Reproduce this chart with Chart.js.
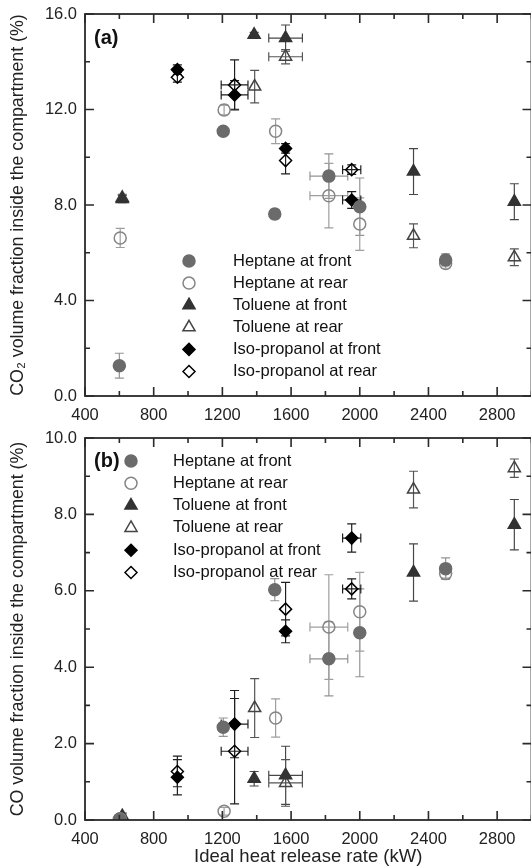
<!DOCTYPE html>
<html><head><meta charset="utf-8">
<script src="https://cdn.jsdelivr.net/npm/chart.js@4.4.0/dist/chart.umd.min.js"></script>
<style>
html,body{margin:0;padding:0;background:#fff;overflow:hidden;width:531px;height:868px;}
#ca{position:absolute;left:0;top:0;}
#cb{position:absolute;left:0;top:420px;}
</style></head><body>
<canvas id="ca" width="540" height="430"></canvas>
<canvas id="cb" width="540" height="448"></canvas>
<script>
// ---------- DATA ----------
const seriesNames = ['Heptane at front','Heptane at rear','Toluene at front','Toluene at rear','Iso-propanol at front','Iso-propanol at rear'];

// x: ideal heat release rate (kW)
const heptaneFrontX = [600, 1205, 1505, 1820, 2000, 2500];
const heptaneRearX  = [605, 1210, 1510, 1820, 2000, 2500];
const tolueneFrontX = [617, 1385, 1568, 2313, 2900];
const tolueneRearX  = [617, 1388, 1568, 2313, 2900];
const isoFrontX     = [938, 1271, 1568, 1953];
const isoRearX      = [938, 1271, 1568, 1953];
// x error (kW)
const heptaneXErr = [0, 0, 0, 110, 0, 0];
const tolueneXErr = [0, 0, 98, 0, 0];
const isoXErr     = [0, 78, 0, 53];

// (a) CO2 volume fraction (%)
const co2HeptaneFront = [1.27, 11.09, 7.62, 9.21, 7.93, 5.70];
const co2HeptaneFrontErr = [0.52, 0.15, 0.20, 0.93, 1.20, 0.25];
const co2HeptaneRear  = [6.62, 11.98, 11.09, 8.39, 7.20, 5.55];
const co2HeptaneRearErr = [0.40, 0.20, 0.52, 1.35, 1.10, 0.20];
const co2TolueneFront = [8.25, 15.13, 14.99, 9.40, 8.14];
const co2TolueneFrontErr = [0.15, 0.10, 0.55, 0.96, 0.75];
const co2TolueneRear  = [8.30, 12.96, 14.21, 6.71, 5.81];
const co2TolueneRearErr = [0.15, 0.68, 0.30, 0.50, 0.35];
const co2IsoFront     = [13.67, 12.61, 10.37, 8.21];
const co2IsoFrontErr  = [0.20, 0.60, 0.20, 0.35];
const co2IsoRear      = [13.35, 13.03, 9.86, 9.48];
const co2IsoRearErr   = [0.20, 1.05, 0.56, 0.20];

// (b) CO volume fraction (%)
const coHeptaneFront = [0.02, 2.43, 6.03, 4.22, 4.90, 6.58];
const coHeptaneFrontErr = [0.10, 0.24, 0.29, 0.97, 1.15, 0.28];
const coHeptaneRear  = [0.03, 0.23, 2.67, 5.05, 5.45, 6.45];
const coHeptaneRearErr = [0.05, 0.10, 0.50, 1.37, 1.03, 0.12];
const coTolueneFront = [0.10, 1.08, 1.17, 6.48, 7.73];
const coTolueneFrontErr = [0.08, 0.19, 0.76, 0.75, 0.66];
const coTolueneRear  = [0.05, 2.93, 0.97, 8.65, 9.21];
const coTolueneRearErr = [0.08, 0.77, 0.61, 0.48, 0.24];
const coIsoFront     = [1.12, 2.51, 4.94, 7.38];
const coIsoFrontErr  = [0.46, 0.88, 0.30, 0.37];
const coIsoRear      = [1.27, 1.80, 5.52, 6.05];
const coIsoRearErr   = [0.40, 1.38, 0.70, 0.26];

// ticks
const xTickLabels = [400, 800, 1200, 1600, 2000, 2400, 2800];
const xMinorTicks = [600, 1000, 1400, 1800, 2200, 2600, 3000];
const co2TickLabels = [0, 4, 8, 12, 16];
const co2MinorTicks = [2, 6, 10, 14];
const coTickLabels = [0, 2, 4, 6, 8, 10];
const coMinorTicks = [1, 3, 5, 7, 9];

// ---------- STYLE ----------
const FONT = "'Liberation Sans', Arial, Helvetica, sans-serif";
const styles = [
  {pointStyle:'circle',   radius:6,   bg:'#6b6b6b',        border:'#6b6b6b', err:'#949494'},
  {pointStyle:'circle',   radius:6,   bg:'rgba(0,0,0,0)',  border:'#858585', err:'#9e9e9e'},
  {pointStyle:'triangle', radius:7,   bg:'#333333',        border:'#333333', err:'#474747'},
  {pointStyle:'triangle', radius:7,   bg:'rgba(0,0,0,0)',  border:'#444444', err:'#555555'},
  {pointStyle:'rectRot',  radius:6,   bg:'#000000',        border:'#000000', err:'#1e1e1e'},
  {pointStyle:'rectRot',  radius:6,   bg:'rgba(0,0,0,0)',  border:'#000000', err:'#1e1e1e'}
];

function mk(i, xs, ys, yErr, xErr) {
  const s = styles[i];
  return {
    label: seriesNames[i],
    data: xs.map((x, k) => ({x: x, y: ys[k]})),
    yErr: yErr, xErr: xErr, errColor: s.err,
    pointStyle: s.pointStyle, pointRadius: s.radius, pointHoverRadius: s.radius,
    backgroundColor: s.bg, borderColor: s.border, pointBorderWidth: 1.5, showLine: false
  };
}

function drawMarker(ctx, style, r, x, y) {
  if (style === 'circle') { ctx.arc(x, y, r, 0, Math.PI * 2); }
  else if (style === 'triangle') {
    ctx.moveTo(x, y - r);
    ctx.lineTo(x + Math.sin(2*Math.PI/3) * r, y + r / 2);
    ctx.lineTo(x - Math.sin(2*Math.PI/3) * r, y + r / 2);
    ctx.closePath();
  } else {
    ctx.moveTo(x - r, y); ctx.lineTo(x, y - r); ctx.lineTo(x + r, y); ctx.lineTo(x, y + r); ctx.closePath();
  }
}

const framePlugin = {
  id: 'frame',
  beforeDatasetsDraw(chart) {
    const ctx = chart.ctx, a = chart.chartArea;
    const xs = chart.scales.x, ys = chart.scales.y;
    ctx.save();
    ctx.beginPath(); ctx.rect(a.left, a.top, a.right - a.left, a.bottom - a.top); ctx.clip();
    ctx.lineWidth = 1.2;
    const cap = 4.5;
    chart.data.datasets.forEach(ds => {
      ctx.strokeStyle = ds.errColor;
      ds.data.forEach((p, k) => {
        const px = xs.getPixelForValue(p.x), py = ys.getPixelForValue(p.y);
        const ye = ds.yErr[k], xe = ds.xErr[k];
        ctx.beginPath();
        if (ye > 0) {
          const y1 = ys.getPixelForValue(p.y + ye), y2 = ys.getPixelForValue(p.y - ye);
          ctx.moveTo(px, y1); ctx.lineTo(px, y2);
          ctx.moveTo(px - cap, y1); ctx.lineTo(px + cap, y1);
          ctx.moveTo(px - cap, y2); ctx.lineTo(px + cap, y2);
        }
        if (xe > 0) {
          const x1 = xs.getPixelForValue(p.x - xe), x2 = xs.getPixelForValue(p.x + xe);
          ctx.moveTo(x1, py); ctx.lineTo(x2, py);
          ctx.moveTo(x1, py - cap); ctx.lineTo(x1, py + cap);
          ctx.moveTo(x2, py - cap); ctx.lineTo(x2, py + cap);
        }
        ctx.stroke();
      });
    });
    ctx.restore();
  },
  afterDraw(chart, args, opts) {
    const ctx = chart.ctx, a = chart.chartArea;
    const xs = chart.scales.x, ys = chart.scales.y;
    ctx.save();
    ctx.strokeStyle = '#2a2a2a';
    ctx.lineWidth = 1.8;
    ctx.strokeRect(a.left, a.top, a.right - a.left, a.bottom - a.top);
    const MAJ = 9, MIN = 5;
    ctx.lineWidth = 1.6;
    ctx.beginPath();
    const xt = (vals, len) => vals.forEach(v => {
      const px = xs.getPixelForValue(v);
      ctx.moveTo(px, a.bottom); ctx.lineTo(px, a.bottom - len);
      ctx.moveTo(px, a.top); ctx.lineTo(px, a.top + len);
    });
    const yt = (vals, len) => vals.forEach(v => {
      const py = ys.getPixelForValue(v);
      ctx.moveTo(a.left, py); ctx.lineTo(a.left + len, py);
      ctx.moveTo(a.right, py); ctx.lineTo(a.right - len, py);
    });
    xt(xTickLabels, MAJ); xt(xMinorTicks, MIN);
    yt(opts.yMajor, MAJ); yt(opts.yMinor, MIN);
    ctx.stroke();

    // panel label
    ctx.fillStyle = '#111';
    ctx.font = 'bold 20px ' + FONT;
    ctx.textAlign = 'left'; ctx.textBaseline = 'middle';
    ctx.fillText(opts.panelLabel, a.left + 9, a.top + opts.labelDy);

    // legend
    ctx.font = '16.5px ' + FONT;
    chart.data.datasets.forEach((ds, i) => {
      const ly = a.top + opts.legendTop + i * opts.legendStep;
      ctx.fillStyle = ds.backgroundColor; ctx.strokeStyle = ds.borderColor; ctx.lineWidth = 1.5;
      ctx.beginPath();
      drawMarker(ctx, ds.pointStyle, ds.pointRadius, a.left + opts.legendMarkerDx, ly);
      ctx.fill(); ctx.stroke();
      ctx.fillStyle = '#111';
      ctx.fillText(ds.label, a.left + opts.legendTextDx, ly);
    });
    ctx.restore();
  }
};

function zeroPad(s) { s.paddingLeft = 0; s.paddingRight = 0; s.paddingTop = 0; s.paddingBottom = 0; }

function makeChart(id, cfg) {
  return new Chart(document.getElementById(id), {
    type: 'scatter',
    data: {datasets: cfg.datasets},
    options: {
      responsive: false, animation: false, devicePixelRatio: 1,
      layout: {padding: {left: 0, right: 8, top: cfg.padTop, bottom: 0}},
      plugins: {
        legend: {display: false}, tooltip: {enabled: false},
        frame: cfg.frame
      },
      scales: {
        x: {
          type: 'linear', min: 400, max: 3000,
          afterBuildTicks: s => { s.ticks = xTickLabels.map(v => ({value: v})); },
          afterFit: s => { s.height = cfg.xHeight; zeroPad(s); },
          grid: {display: false, drawTicks: false}, border: {display: false},
          ticks: {padding: 10, color: '#222', font: {family: FONT, size: 16.5}, maxRotation: 0, autoSkip: false,
                  callback: v => String(v)},
          title: {display: !!cfg.xTitle, text: cfg.xTitle || '', color: '#222',
                  font: {family: FONT, size: 18.5}, padding: {top: 0, bottom: 0}}
        },
        y: {
          type: 'linear', min: 0, max: cfg.yMax,
          afterBuildTicks: s => { s.ticks = cfg.yTicks.map(v => ({value: v})); },
          afterFit: s => { s.width = 85; zeroPad(s); },
          grid: {display: false, drawTicks: false}, border: {display: false},
          ticks: {padding: 8, color: '#222', font: {family: FONT, size: 16.5},
                  callback: v => Number(v).toFixed(1)},
          title: {display: true, text: cfg.yTitle, color: '#222',
                  font: {family: FONT, size: 17.8}, padding: {top: 7, bottom: 0}}
        }
      }
    },
    plugins: [framePlugin]
  });
}

makeChart('ca', {
  padTop: 14, xHeight: 34, yMax: 16, yTicks: co2TickLabels,
  yTitle: 'CO\u2082 volume fraction inside the compartment (%)',
  datasets: [
    mk(0, heptaneFrontX, co2HeptaneFront, co2HeptaneFrontErr, heptaneXErr),
    mk(1, heptaneRearX,  co2HeptaneRear,  co2HeptaneRearErr,  heptaneXErr),
    mk(2, tolueneFrontX, co2TolueneFront, co2TolueneFrontErr, tolueneXErr),
    mk(3, tolueneRearX,  co2TolueneRear,  co2TolueneRearErr,  tolueneXErr),
    mk(4, isoFrontX,     co2IsoFront,     co2IsoFrontErr,     isoXErr),
    mk(5, isoRearX,      co2IsoRear,      co2IsoRearErr,      isoXErr)
  ],
  frame: {yMajor: co2TickLabels, yMinor: co2MinorTicks, panelLabel: '(a)', labelDy: 24,
          legendTop: 247, legendStep: 22.1, legendMarkerDx: 104, legendTextDx: 148}
});

makeChart('cb', {
  padTop: 18, xHeight: 48, yMax: 10, yTicks: coTickLabels,
  yTitle: 'CO volume fraction inside the compartment (%)',
  xTitle: 'Ideal heat release rate (kW)',
  datasets: [
    mk(0, heptaneFrontX, coHeptaneFront, coHeptaneFrontErr, heptaneXErr),
    mk(1, heptaneRearX,  coHeptaneRear,  coHeptaneRearErr,  heptaneXErr),
    mk(2, tolueneFrontX, coTolueneFront, coTolueneFrontErr, tolueneXErr),
    mk(3, tolueneRearX,  coTolueneRear,  coTolueneRearErr,  tolueneXErr),
    mk(4, isoFrontX,     coIsoFront,     coIsoFrontErr,     isoXErr),
    mk(5, isoRearX,      coIsoRear,      coIsoRearErr,      isoXErr)
  ],
  frame: {yMajor: coTickLabels, yMinor: coMinorTicks, panelLabel: '(b)', labelDy: 23,
          legendTop: 23, legendStep: 22.3, legendMarkerDx: 46, legendTextDx: 88}
});
</script>
</body></html>
